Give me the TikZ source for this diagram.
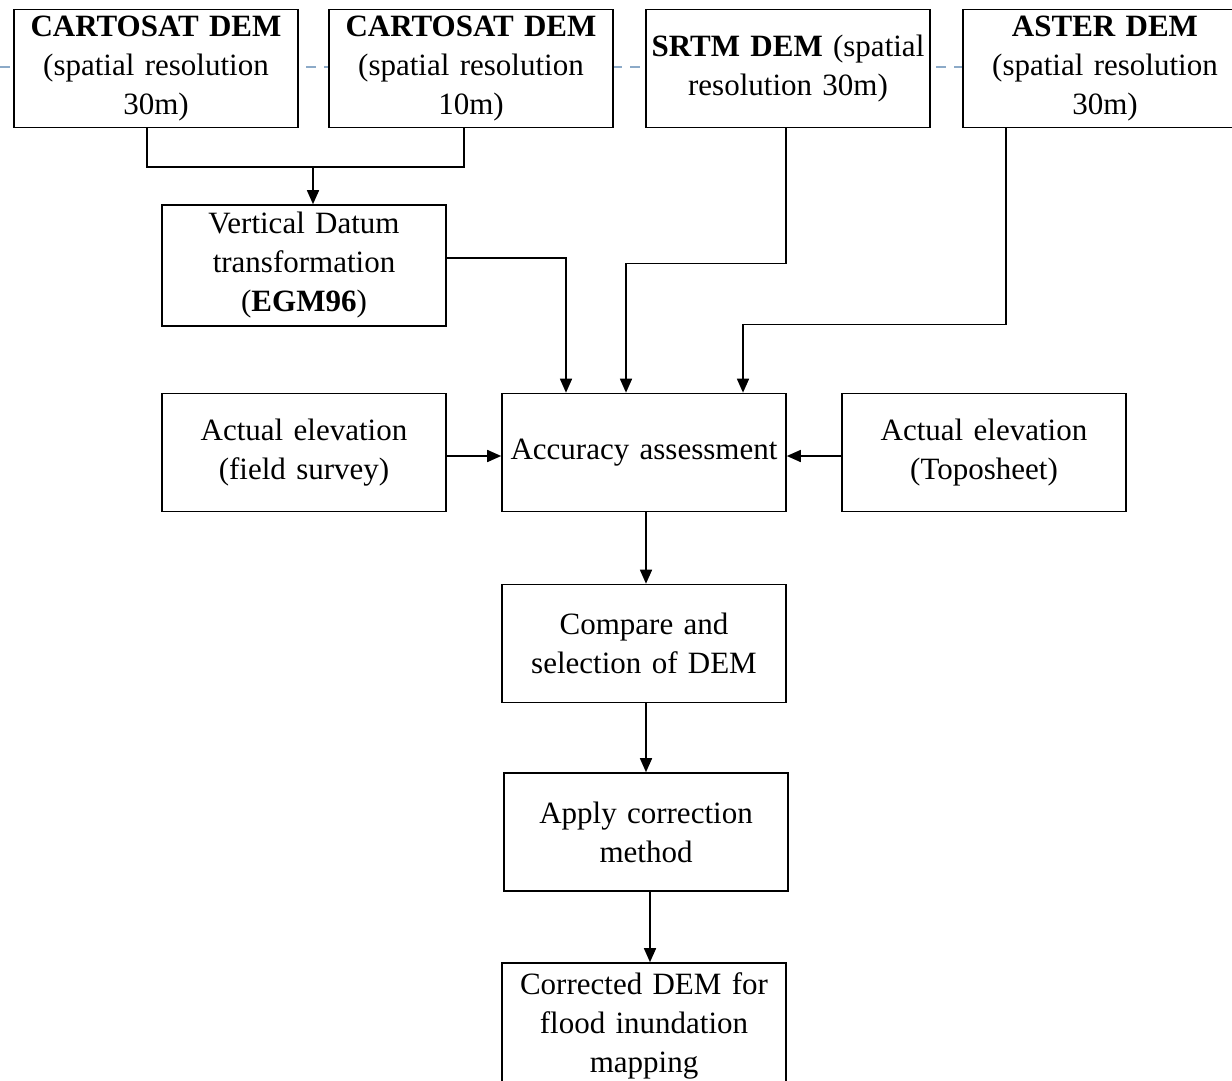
\documentclass[tikz,border=0pt]{standalone}
\usepackage{fontspec}
\setmainfont{Liberation Serif}
\usetikzlibrary{arrows.meta, positioning}
\definecolor{guideblue}{RGB}{140,170,200}

\begin{document}
\begin{tikzpicture}[
  x=0.5pt, y=-0.5pt,
  BX/.style={draw, fill=white, line width=0.8pt, minimum width=142pt, minimum height=59pt,
             text width=140pt, inner sep=1pt, align=center, font=\fontsize{15.5}{19.5}\selectfont},
  AR/.style={-{Triangle[length=7pt,width=6pt]}, line width=0.8pt},
  LN/.style={line width=0.8pt}
]
  \useasboundingbox (0,0) rectangle (1232,1081);
  \draw[guideblue, dash pattern=on 5pt off 4pt, line width=0.6pt] (0,67) -- (1232,67);

  % input DEMs
  \node[BX] (cart30) at (156,68.5)  {\textbf{CARTOSAT DEM}\\(spatial resolution\\30m)};
  \node[BX] (cart10) at (471,68.5)  {\textbf{CARTOSAT DEM}\\(spatial resolution\\10m)};
  \node[BX] (srtm)   at (788,68.5)  {\textbf{SRTM DEM} (spatial\\resolution 30m)};
  \node[BX] (aster)  at (1105,68.5) {\textbf{ASTER DEM}\\(spatial resolution\\30m)};

  \node[BX, minimum height=60.5pt] (vdatum) at (304,265.5) {Vertical Datum\\transformation\\(\textbf{EGM96})};

  % assessment row
  \node[BX] (field) at (304,452.5) {Actual elevation\\(field survey)};
  \node[BX] (acc)   at (644,452.5) {Accuracy assessment};
  \node[BX] (topo)  at (984,452.5) {Actual elevation\\(Toposheet)};

  \node[BX] (comp)  at (644,643.5) {Compare and\\selection of DEM};
  \node[BX] (apply) at (646,832)   {Apply correction\\method};
  \node[BX, minimum height=63pt] (corr) at (644,1026) {Corrected DEM for\\flood inundation\\mapping};

  % connectors
  \coordinate (join) at (313,167);
  \draw[LN] ([xshift=-4.5pt]cart30.south) |- (join) -| ([xshift=-3.5pt]cart10.south);
  \draw[AR] (join) -- (join |- vdatum.north);
  \draw[AR] ([yshift=3.75pt]vdatum.east) -| ([xshift=-39pt]acc.north);
  \draw[AR] ([xshift=-1pt]srtm.south) -- ++(0,135) -| ([xshift=-9pt]acc.north);
  \draw[AR] ([xshift=-49.5pt]aster.south) -- ++(0,196) -| ([xshift=49.5pt]acc.north);
  \draw[AR] ([yshift=-1.75pt]field.east) -- ([yshift=-1.75pt]acc.west);
  \draw[AR] ([yshift=-1.75pt]topo.west) -- ([yshift=-1.75pt]acc.east);
  \draw[AR] ([xshift=1pt]acc.south) -- ([xshift=1pt]comp.north);
  \draw[AR] ([xshift=1pt]comp.south) -- ([xshift=1pt]comp.south |- apply.north);
  \draw[AR] ([xshift=2pt]apply.south) -- ([xshift=2pt]apply.south |- corr.north);
\end{tikzpicture}
\end{document}
